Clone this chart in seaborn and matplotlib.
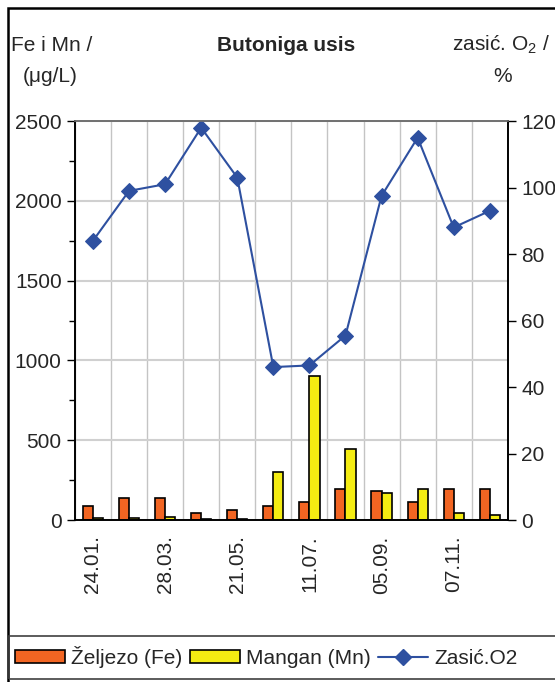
import numpy as np
import pandas as pd
import matplotlib.pyplot as plt
from matplotlib.patches import Rectangle
from matplotlib.lines import Line2D
from matplotlib.ticker import MultipleLocator
import seaborn as sns

# Data (12 sampling dates, every second one labelled)
dates = ['24.01.', '', '28.03.', '', '21.05.', '', '11.07.', '', '05.09.', '', '07.11.', '']
fe = [85, 135, 135, 45, 60, 85, 110, 195, 185, 110, 195, 195]
mn = [10, 10, 20, 8, 8, 300, 900, 445, 170, 195, 45, 30]
o2 = [84, 99, 101, 118, 103, 46, 46.5, 55.5, 97.5, 115, 88, 93]

fe_color = '#F26522'
mn_color = '#F4EC12'
line_color = '#2E50A0'

sns.set_style('white')
plt.rcParams['font.family'] = ['Liberation Sans', 'DejaVu Sans']
plt.rcParams['mathtext.fontset'] = 'custom'
plt.rcParams['mathtext.rm'] = 'Liberation Sans'

idx = np.arange(len(dates))
df = pd.DataFrame({
    'idx': np.concatenate([idx, idx]),
    'value': fe + mn,
    'param': ['Fe'] * len(fe) + ['Mn'] * len(mn),
})

fig = plt.figure(figsize=(5.55, 6.82), dpi=100)
ax = fig.add_axes([0.135, 0.2375, 0.78, 0.585])

sns.barplot(data=df, x='idx', y='value', hue='param', palette=[fe_color, mn_color],
            saturation=1, width=0.56, gap=0, edgecolor='black', linewidth=1.2,
            legend=False, ax=ax)

ax2 = ax.twinx()
sns.lineplot(x=idx, y=o2, ax=ax2, color=line_color, marker='D', markersize=8,
             markeredgecolor=line_color, linewidth=1.5)

ax.set_xlim(-0.5, len(dates) - 0.5)
ax.set_ylim(0, 2500)
ax2.set_ylim(0, 120)
ax.set_xlabel('')
ax.set_ylabel('')
ax2.set_ylabel('')

# x axis: labels at the centres, ticks and grid at the category boundaries
ax.set_xticks(idx)
ax.set_xticklabels(dates, rotation=90, fontsize=15)
ax.set_xticks(np.arange(-0.5, len(dates)), minor=True)
ax.tick_params(axis='x', which='major', length=0, pad=11)
ax.tick_params(axis='x', which='minor', length=6, width=1, direction='out', color='black')

ax.yaxis.set_major_locator(MultipleLocator(500))
ax.yaxis.set_minor_locator(MultipleLocator(250))
ax.tick_params(axis='y', which='major', length=6, width=1, direction='out', labelsize=15, color='black')
ax.tick_params(axis='y', which='minor', length=4, width=1, direction='out', color='black')
ax.tick_params(left=True, which='both')

ax2.set_yticks(np.arange(0, 121, 20))
ax2.tick_params(axis='y', length=6, width=1, direction='out', labelsize=15, color='black', right=True)

ax.grid(True, axis='x', which='minor', color='#C4C4C4', linewidth=1)
ax.grid(True, axis='y', which='major', color='#D0D0D0', linewidth=1.5)
ax.set_axisbelow(True)

for a in (ax, ax2):
    for s in a.spines.values():
        s.set_color('black')
        s.set_linewidth(1.2)
    a.spines['top'].set_color('#707070')

# titles
fig.text(0.515, 0.934, 'Butoniga usis', ha='center', va='center', fontsize=15, fontweight='bold')
fig.text(0.02, 0.934, 'Fe i Mn /', ha='left', va='center', fontsize=15)
fig.text(0.09, 0.888, '(\u03bcg/L)', ha='center', va='center', fontsize=15)
fig.text(0.815, 0.934, 'zasi\u0107. O$_2$ /', ha='left', va='center', fontsize=15)
fig.text(0.905, 0.888, '%', ha='center', va='center', fontsize=15)

# outer chart border and legend box
fig.patches.append(Rectangle((8 / 555, -0.01), 1.1, 1 - 8 / 682 + 0.01, transform=fig.transFigure,
                             fill=False, edgecolor='black', linewidth=1.8))
fig.patches.append(Rectangle((9 / 555, 1 - 679 / 682), 1.1, 43 / 682, transform=fig.transFigure,
                             fill=False, edgecolor='#404040', linewidth=1.2))

handles = [
    Rectangle((0, 0), 1, 1, facecolor=fe_color, edgecolor='black', linewidth=1.2),
    Rectangle((0, 0), 1, 1, facecolor=mn_color, edgecolor='black', linewidth=1.2),
    Line2D([], [], color=line_color, marker='D', markersize=8, linewidth=1.5),
]
fig.legend(handles, ['\u017deljezo (Fe)', 'Mangan (Mn)', 'Zasi\u0107.O2'], ncol=3,
           loc='center left', bbox_to_anchor=(15 / 555, 1 - 657 / 682), frameon=False,
           fontsize=15, handlelength=2.4, handleheight=0.6, handletextpad=0.3,
           columnspacing=0.35, borderaxespad=0, borderpad=0)

fig.savefig('out.png', dpi=100)
